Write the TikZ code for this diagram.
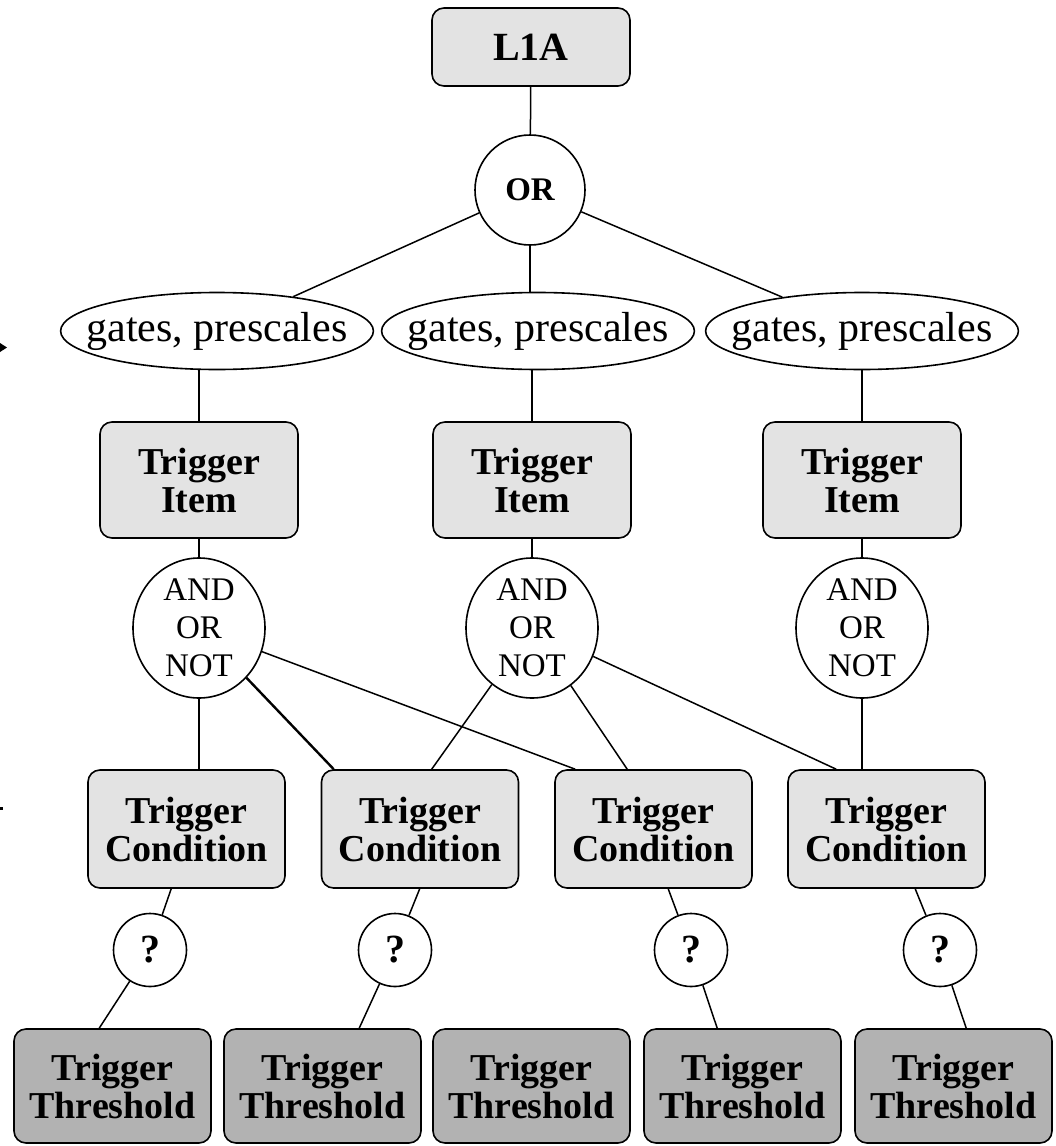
\documentclass[tikz,border=0pt]{standalone}
\usepackage{fontspec}
\setmainfont{Liberation Serif}
\usetikzlibrary{shapes.geometric}
\definecolor{boxgrey}{gray}{0.89}
\definecolor{threshgrey}{gray}{0.70}

\begin{document}
\begin{tikzpicture}[x=1pt,y=-1pt]

%
% Styles
%
\tikzstyle{box}    = [draw,line width=1.6pt,rounded corners=12pt,fill=boxgrey,inner sep=0pt,align=center,minimum width=198pt,font=\bfseries\fontsize{38}{38}\selectfont]
\tikzstyle{thresh} = [box,fill=threshgrey,minimum width=197pt,minimum height=114pt]
\tikzstyle{gate}   = [draw,ellipse,line width=1.6pt,inner xsep=-20pt,inner ysep=0pt,minimum width=312pt,minimum height=77pt,font=\fontsize{42}{42}\selectfont]
\tikzstyle{logic}  = [draw,ellipse,line width=1.6pt,inner sep=0pt,align=center,minimum width=132pt,minimum height=140pt,font=\fontsize{33}{38}\selectfont]
\tikzstyle{query}  = [draw,circle,line width=1.6pt,inner sep=0pt,minimum size=73pt,font=\bfseries\fontsize{40}{40}\selectfont]
\tikzstyle{edge}   = [line width=1.5pt]
\tikzstyle{edge2}  = [line width=2.4pt]

\useasboundingbox (0,0) rectangle (1055,1146);

\node[box,minimum height=78pt,font=\bfseries\fontsize{40}{40}\selectfont] (l1a) at (531,47) {L1A};
\node[draw,circle,line width=1.6pt,inner sep=0pt,minimum size=110pt,font=\bfseries\fontsize{33}{33}\selectfont] (or) at (530,190) {OR};

\node[gate] (gates1) at (217,331) {gates, prescales};
\node[gate] (gates2) at (538,331) {gates, prescales};
\node[gate] (gates3) at (862,331) {gates, prescales};

\node[box,minimum height=116pt] (item1) at (199,480) {Trigger\\Item};
\node[box,minimum height=116pt] (item2) at (532,480) {Trigger\\Item};
\node[box,minimum height=116pt] (item3) at (862,480) {Trigger\\Item};

\node[logic] (and1) at (199,628) {AND\\OR\\NOT};
\node[logic] (and2) at (532,628) {AND\\OR\\NOT};
\node[logic] (and3) at (862,628) {AND\\OR\\NOT};

\node[box,minimum width=197pt,minimum height=118pt] (cond1) at (186.5,829) {Trigger\\Condition};
\node[box,minimum width=197pt,minimum height=118pt] (cond2) at (420,829)   {Trigger\\Condition};
\node[box,minimum width=197pt,minimum height=118pt] (cond3) at (653.5,829) {Trigger\\Condition};
\node[box,minimum width=197pt,minimum height=118pt] (cond4) at (886.5,829) {Trigger\\Condition};

\node[query] (q1) at (150,950) {?};
\node[query] (q2) at (395,950) {?};
\node[query] (q3) at (691,950) {?};
\node[query] (q4) at (940,950) {?};

\node[thresh] (thr1) at (112.5,1086) {Trigger\\Threshold};
\node[thresh] (thr2) at (322.5,1086) {Trigger\\Threshold};
\node[thresh] (thr3) at (531.5,1086) {Trigger\\Threshold};
\node[thresh] (thr4) at (742.5,1086) {Trigger\\Threshold};
\node[thresh] (thr5) at (953.5,1086) {Trigger\\Threshold};

\draw[edge] (l1a) -- (or);
\draw[edge] (or) -- (gates1);
\draw[edge] (or) -- (or |- gates2.north);
\draw[edge] (or) -- (gates3);

\draw[edge] (item1) -- (item1 |- gates1.south);
\draw[edge] (item2) -- (item2 |- gates2.south);
\draw[edge] (item3) -- (item3 |- gates3.south);

\draw[edge] (item1) -- (and1);
\draw[edge] (item2) -- (and2);
\draw[edge] (item3) -- (and3);

\draw[edge]  (and1) -- (and1 |- cond1.north);
\draw[edge2] (and1) -- ([xshift=13pt]cond2.north west);
\draw[edge]  (and1) -- ([xshift=21pt]cond3.north west);
\draw[edge]  (and2) -- ([xshift=111pt]cond2.north west);
\draw[edge]  (and2) -- ([xshift=73pt]cond3.north west);
\draw[edge]  (and2) -- ([xshift=49pt]cond4.north west);
\draw[edge]  (and3) -- (and3 |- cond4.north);

\draw[edge] ([xshift=84pt]cond1.south west) -- (q1);
\draw[edge] ([xshift=99pt]cond2.south west) -- (q2);
\draw[edge] ([xshift=114pt]cond3.south west) -- (q3);
\draw[edge] ([xshift=128pt]cond4.south west) -- (q4);

\draw[edge] (q1) -- ([xshift=86pt]thr1.north west);
\draw[edge] (q2) -- ([xshift=136pt]thr2.north west);
\draw[edge] (q3) -- ([xshift=74pt]thr4.north west);
\draw[edge] (q4) -- ([xshift=112pt]thr5.north west);

% stubs cut at the left edge
\fill (0,343) -- (7,347.5) -- (0,352) -- cycle;
\fill (0,807) rectangle (3,809.5);

\end{tikzpicture}
\end{document}
